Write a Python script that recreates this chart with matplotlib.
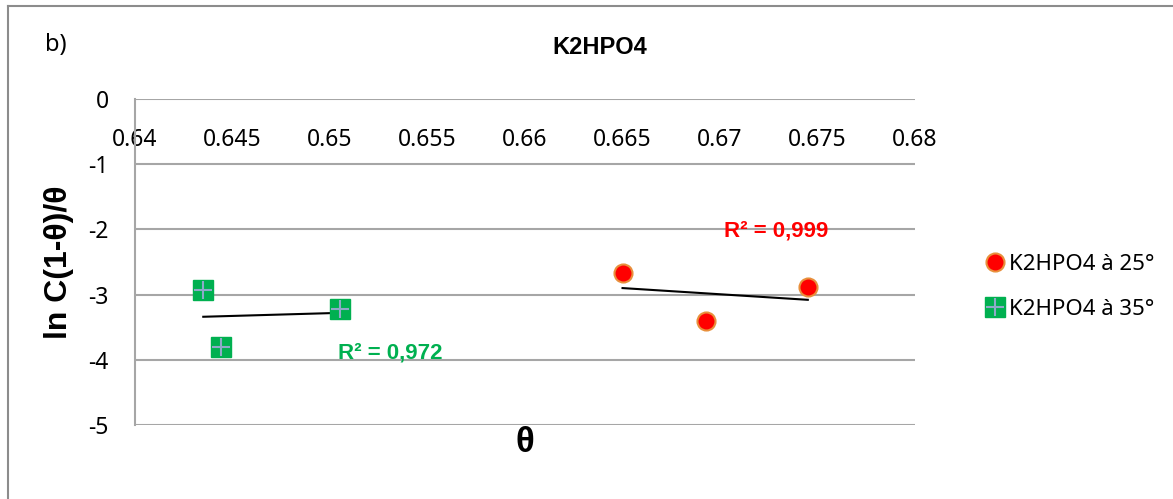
import matplotlib.pyplot as plt
from matplotlib.lines import Line2D

plt.rcParams['font.family'] = ['Noto Sans', 'DejaVu Sans']
plt.rcParams['axes.unicode_minus'] = False
bold = ['Liberation Sans', 'DejaVu Sans']

# series
theta_25 = [0.6650, 0.6693, 0.6745]
lnc_25 = [-2.67, -3.41, -2.88]
theta_35 = [0.6435, 0.6444, 0.6505]
lnc_35 = [-2.93, -3.80, -3.22]

# trend line ends as drawn
trend25_x = [0.6650, 0.6745]
trend25_y = [-2.90, -3.08]
trend35_x = [0.6435, 0.6505]
trend35_y = [-3.34, -3.28]

xticks = [0.64, 0.645, 0.65, 0.655, 0.66, 0.665, 0.67, 0.675, 0.68]
xlabels = ['0.64', '0.645', '0.65', '0.655', '0.66', '0.665', '0.67', '0.675', '0.68']
yticks = [0, -1, -2, -3, -4, -5]

fig = plt.figure(figsize=(11.73, 4.99), dpi=100)
ax = fig.add_axes([0.1151, 0.1483, 0.665, 0.6533])

grid = '#a6a6a6'
for y in yticks:
    ax.axhline(y, color=grid, lw=1.5, zorder=1)

ax.plot(trend35_x, trend35_y, color='black', lw=1.5, zorder=2)
ax.plot(trend25_x, trend25_y, color='black', lw=1.5, zorder=2)

ax.plot(theta_25, lnc_25, 'o', ls='none', ms=13, mfc='#ff0000', mec='#e8903c', mew=1.5, zorder=3)
ax.plot(theta_35, lnc_35, 's', ls='none', ms=14, mfc='#00b050', mec='#00b050', zorder=3)
ax.plot(theta_35, lnc_35, '+', ls='none', ms=13, mec='#8ea9c8', mew=1.5, zorder=4)

ax.set_xlim(0.64, 0.68)
ax.set_ylim(-5, 0)
ax.set_xticks(xticks)
ax.set_xticklabels(xlabels)
ax.set_yticks(yticks)
ax.xaxis.set_ticks_position('top')
ax.tick_params(axis='x', length=0, labelsize=16.5, pad=-38, labeltop=True, labelbottom=False)
ax.tick_params(axis='y', length=0, labelsize=16.5, pad=19)

for s in ['top', 'right', 'bottom']:
    ax.spines[s].set_visible(False)
ax.spines['left'].set_color(grid)
ax.spines['left'].set_linewidth(1.5)

ax.set_ylabel('ln C(1-θ)/θ', fontsize=23, fontweight='bold', family=bold, labelpad=10)
ax.set_xlabel('θ', fontsize=25, fontweight='bold', family=bold, labelpad=1)

ax.text(0.6729, -2.02, 'R² = 0,999', color='#ff0000', fontsize=16, fontweight='bold', family=bold,
        ha='center', va='center')
ax.text(0.6531, -3.89, 'R² = 0,972', color='#00b050', fontsize=16, fontweight='bold', family=bold,
        ha='center', va='center')

fig.text(0.5115, 0.905, 'K2HPO4', fontsize=17, fontweight='bold', family=bold, ha='center', va='center')
fig.text(0.048, 0.91, 'b)', fontsize=17, ha='center', va='center')

# legend
h25 = Line2D([], [], marker='o', ls='none', ms=13, mfc='#ff0000', mec='#e8903c', mew=1.5)
h35 = (Line2D([], [], marker='s', ls='none', ms=14, mfc='#00b050', mec='#00b050'),
       Line2D([], [], marker='+', ls='none', ms=13, mec='#8ea9c8', mew=1.5))
fig.legend([h25, h35], ['K2HPO4 à 25°', 'K2HPO4 à 35°'], loc='center left',
           bbox_to_anchor=(0.822, 0.425), frameon=False, fontsize=16,
           handletextpad=0.1, handlelength=1.0, labelspacing=1.05)

# outer chart border
fig.add_artist(Line2D([8 / 1173, 8 / 1173], [0, 1 - 6 / 499], color='#8c8c8c', lw=1.5, transform=fig.transFigure))
fig.add_artist(Line2D([8 / 1173, 1], [1 - 6 / 499, 1 - 6 / 499], color='#8c8c8c', lw=1.5, transform=fig.transFigure))

fig.savefig('out.png', dpi=100)
